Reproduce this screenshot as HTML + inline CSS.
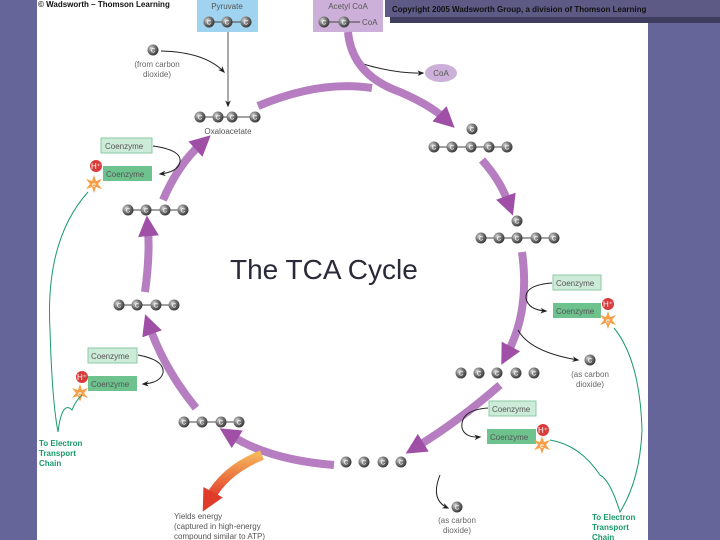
<!DOCTYPE html>
<html><head><meta charset="utf-8"><style>
body{margin:0;width:720px;height:540px;overflow:hidden;background:#fff}
svg{display:block;font-family:"Liberation Sans",sans-serif}
</style></head><body>
<svg width="720" height="540" viewBox="0 0 720 540">
<defs>
<marker id="ph" viewBox="0 0 10 10" refX="3" refY="5" markerWidth="2.6" markerHeight="2.6" orient="auto" markerUnits="strokeWidth"><path d="M0,0 L10,5 L0,10 z" fill="#a04fa6"/></marker>
<marker id="bh" viewBox="0 0 10 10" refX="8" refY="5" markerWidth="7" markerHeight="7" orient="auto" markerUnits="userSpaceOnUse"><path d="M0,1 L10,5 L0,9 L3,5z" fill="#222"/></marker>
<marker id="oh" viewBox="0 0 10 10" refX="3" refY="5" markerWidth="2.2" markerHeight="2.2" orient="auto" markerUnits="strokeWidth"><path d="M0,0 L10,5 L0,10 z" fill="#e03a2a"/></marker>
<radialGradient id="ball" cx="0.35" cy="0.35" r="0.7"><stop offset="0" stop-color="#ddd"/><stop offset="0.5" stop-color="#777"/><stop offset="1" stop-color="#333"/></radialGradient>
<linearGradient id="og" x1="0" y1="0" x2="0" y2="1"><stop offset="0" stop-color="#f5b35a"/><stop offset="1" stop-color="#e23a2a"/></linearGradient>
<g id="c"><circle r="5.5" fill="url(#ball)"/><text y="2.5" font-size="6" fill="#fff" text-anchor="middle">C</text></g>
<g id="hp"><circle r="6" fill="#d83a3a"/><text y="3" font-size="8" fill="#fff" text-anchor="middle">H⁺</text></g>
<g id="st"><path d="M0,-9 L2,-3 L8,-5 L4,0 L8,5 L2,3 L0,9 L-2,3 L-8,5 L-4,0 L-8,-5 L-2,-3z" fill="#f7a04a"/><text y="3" font-size="7" fill="#fff" text-anchor="middle">e</text></g>
</defs>
<rect x="0" y="0" width="37" height="540" fill="#65659a"/>
<rect x="648" y="22" width="72" height="518" fill="#65659a"/>
<rect x="385" y="0" width="335" height="17" fill="#5e5a86"/>
<rect x="390" y="17" width="330" height="6" fill="#3f3d5e"/>
<text x="392" y="12" font-size="8" font-weight="bold" fill="#111">Copyright 2005 Wadsworth Group, a division of Thomson Learning</text>
<text x="38" y="7" font-size="8" font-weight="bold" fill="#111">© Wadsworth – Thomson Learning</text>

<rect x="197" y="0" width="61" height="32" fill="#9fd3ef"/>
<text x="227" y="9" font-size="8" fill="#555" text-anchor="middle">Pyruvate</text>
<line x1="209" y1="22" x2="246" y2="22" stroke="#444"/>
<use href="#c" x="209" y="22"/><use href="#c" x="227" y="22"/><use href="#c" x="246" y="22"/>
<rect x="313" y="0" width="70" height="32" fill="#cdb0d9"/>
<text x="348" y="9" font-size="8" fill="#555" text-anchor="middle">Acetyl CoA</text>
<line x1="324" y1="22" x2="360" y2="22" stroke="#444"/>
<use href="#c" x="324" y="22"/><use href="#c" x="344" y="22"/>
<text x="362" y="25" font-size="8" fill="#555">CoA</text>

<use href="#c" x="153" y="50"/>
<text x="157" y="67" font-size="8" fill="#666" text-anchor="middle">(from carbon</text>
<text x="157" y="77" font-size="8" fill="#666" text-anchor="middle">dioxide)</text>
<path d="M161,51 Q205,52 224,72" fill="none" stroke="#222" marker-end="url(#bh)"/>
<line x1="228" y1="32" x2="228" y2="106" stroke="#555" marker-end="url(#bh)"/>
<line x1="200" y1="117" x2="255" y2="117" stroke="#444"/>
<use href="#c" x="200" y="117"/><use href="#c" x="218" y="117"/><use href="#c" x="232" y="117"/><use href="#c" x="255" y="117"/>
<text x="228" y="134" font-size="8" fill="#555" text-anchor="middle">Oxaloacetate</text>

<ellipse cx="441" cy="73" rx="16" ry="9" fill="#cdb0d9"/>
<text x="441" y="76" font-size="8" fill="#555" text-anchor="middle">CoA</text>
<path d="M360,63 Q395,74 423,73" fill="none" stroke="#222" marker-end="url(#bh)"/>

<g fill="none" stroke="#b67dc0" stroke-width="8">
<path d="M348,32 Q352,75 400,92 Q430,105 444,118" marker-end="url(#ph)"/>
<path d="M258,106 Q320,80 372,88"/>
<path d="M482,160 Q500,180 508,202" marker-end="url(#ph)"/>
<path d="M522,252 Q530,310 508,352" marker-end="url(#ph)"/>
<path d="M500,385 Q460,420 418,446" marker-end="url(#ph)"/>
<path d="M334,465 Q270,460 232,436" marker-end="url(#ph)"/>
<path d="M196,408 Q165,370 150,328" marker-end="url(#ph)"/>
<path d="M145,292 Q150,255 148,230" marker-end="url(#ph)"/>
<path d="M163,200 Q178,165 200,145" marker-end="url(#ph)"/>
</g>
<path d="M262,455 Q225,470 210,498" fill="none" stroke="url(#og)" stroke-width="10" marker-end="url(#oh)"/>

<use href="#c" x="472" y="129"/>
<line x1="434" y1="147" x2="507" y2="147" stroke="#444"/>
<use href="#c" x="434" y="147"/><use href="#c" x="452" y="147"/><use href="#c" x="471" y="147"/><use href="#c" x="489" y="147"/><use href="#c" x="507" y="147"/>
<use href="#c" x="517" y="221"/>
<line x1="481" y1="238" x2="554" y2="238" stroke="#444"/>
<use href="#c" x="481" y="238"/><use href="#c" x="499" y="238"/><use href="#c" x="517" y="238"/><use href="#c" x="536" y="238"/><use href="#c" x="554" y="238"/>
<use href="#c" x="461" y="373"/><use href="#c" x="479" y="373"/><use href="#c" x="497" y="373"/><use href="#c" x="516" y="373"/><use href="#c" x="534" y="373"/>
<use href="#c" x="346" y="462"/><use href="#c" x="364" y="462"/><use href="#c" x="383" y="462"/><use href="#c" x="401" y="462"/>
<line x1="184" y1="422" x2="239" y2="422" stroke="#444"/>
<use href="#c" x="184" y="422"/><use href="#c" x="202" y="422"/><use href="#c" x="221" y="422"/><use href="#c" x="239" y="422"/>
<line x1="119" y1="305" x2="174" y2="305" stroke="#444"/>
<use href="#c" x="119" y="305"/><use href="#c" x="137" y="305"/><use href="#c" x="156" y="305"/><use href="#c" x="174" y="305"/>
<line x1="128" y1="210" x2="183" y2="210" stroke="#444"/>
<use href="#c" x="128" y="210"/><use href="#c" x="146" y="210"/><use href="#c" x="165" y="210"/><use href="#c" x="183" y="210"/>

<g font-size="8" fill="#555">
<rect x="101" y="138" width="51" height="15" fill="#cdebd9" stroke="#8cc9a5"/><text x="105" y="149">Coenzyme</text>
<rect x="103" y="166" width="49" height="15" fill="#6ec28e"/><text x="106" y="177">Coenzyme</text>
<rect x="88" y="348" width="49" height="15" fill="#cdebd9" stroke="#8cc9a5"/><text x="91" y="359">Coenzyme</text>
<rect x="88" y="376" width="49" height="15" fill="#6ec28e"/><text x="91" y="387">Coenzyme</text>
<rect x="553" y="275" width="48" height="15" fill="#cdebd9" stroke="#8cc9a5"/><text x="556" y="286">Coenzyme</text>
<rect x="553" y="303" width="48" height="15" fill="#6ec28e"/><text x="556" y="314">Coenzyme</text>
<rect x="489" y="401" width="47" height="15" fill="#cdebd9" stroke="#8cc9a5"/><text x="492" y="412">Coenzyme</text>
<rect x="487" y="429" width="49" height="15" fill="#6ec28e"/><text x="490" y="440">Coenzyme</text>
</g>
<use href="#st" x="94" y="184"/><use href="#hp" x="96" y="166"/>
<use href="#st" x="80" y="393"/><use href="#hp" x="82" y="377"/>
<use href="#st" x="608" y="320"/><use href="#hp" x="608" y="304"/>
<use href="#st" x="542" y="445"/><use href="#hp" x="543" y="430"/>

<g fill="none" stroke="#222">
<path d="M153,146 Q182,150 180,162 Q178,172 160,174" marker-end="url(#bh)"/>
<path d="M138,355 Q165,360 163,373 Q160,383 143,384" marker-end="url(#bh)"/>
<path d="M552,283 Q525,285 526,298 Q528,310 546,311" marker-end="url(#bh)"/>
<path d="M518,330 Q530,352 578,360" marker-end="url(#bh)"/>
<path d="M488,408 Q460,410 462,428 Q465,438 480,437" marker-end="url(#bh)"/>
<path d="M440,475 Q430,500 448,508" marker-end="url(#bh)"/>
</g>
<use href="#c" x="590" y="360"/>
<text x="590" y="377" font-size="8" fill="#666" text-anchor="middle">(as carbon</text>
<text x="590" y="387" font-size="8" fill="#666" text-anchor="middle">dioxide)</text>
<use href="#c" x="457" y="507"/>
<text x="457" y="523" font-size="8" fill="#666" text-anchor="middle">(as carbon</text>
<text x="457" y="533" font-size="8" fill="#666" text-anchor="middle">dioxide)</text>

<g fill="none" stroke="#1a9a6a" stroke-width="1">
<path d="M88,192 Q45,240 50,330 Q52,400 58,432 Q62,400 72,410 Q76,400 82,395"/>
<path d="M614,328 Q640,360 642,430 Q640,480 620,512 Q610,480 600,475 Q580,445 550,440"/>
</g>
<g font-size="8" font-weight="bold" fill="#1a9a6a">
<text x="39" y="446">To Electron</text><text x="39" y="456">Transport</text><text x="39" y="466">Chain</text>
<text x="592" y="520">To Electron</text><text x="592" y="530">Transport</text><text x="592" y="540">Chain</text>
</g>
<g font-size="8" fill="#555">
<text x="174" y="519">Yields energy</text>
<text x="174" y="529">(captured in high-energy</text>
<text x="174" y="539">compound similar to ATP)</text>
</g>
<text x="230" y="279" font-size="28" fill="#2a2a3a">The TCA Cycle</text>
</svg>
</body></html>
